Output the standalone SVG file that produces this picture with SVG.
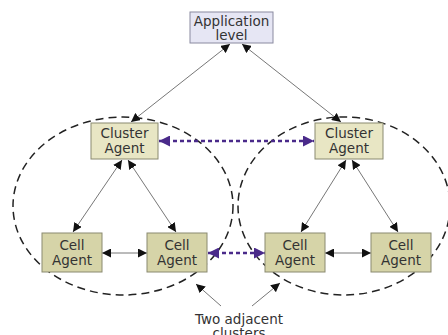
<svg xmlns="http://www.w3.org/2000/svg" width="448" height="335" viewBox="0 0 448 335">
<defs>
<marker id="ah" viewBox="0 0 10 10" refX="10" refY="5" markerWidth="9" markerHeight="9" markerUnits="userSpaceOnUse" orient="auto-start-reverse"><path d="M0,0 L10,5 L0,10 z" fill="#111"/></marker>
<marker id="ap" viewBox="0 0 10 10" refX="10" refY="5" markerWidth="11" markerHeight="11" markerUnits="userSpaceOnUse" orient="auto-start-reverse"><path d="M0,0 L10,5 L0,10 z" fill="#4a2a8a"/></marker>
<style>
text{font-family:"DejaVu Sans",Verdana,sans-serif;font-size:13.5px;fill:#333;text-anchor:middle}
.ell{fill:none;stroke:#222;stroke-width:1.5;stroke-dasharray:8 5}
.app{fill:#e6e6f4;stroke:#8a8aa0;stroke-width:1}
.clu{fill:#e8e6c4;stroke:#8a8a70;stroke-width:1}
.cel{fill:#d6d4a8;stroke:#8a8a70;stroke-width:1}
.ln{stroke:#777;stroke-width:1;fill:none;marker-start:url(#ah);marker-end:url(#ah)}
.one{stroke:#777;stroke-width:1;fill:none;marker-end:url(#ah)}
.pl{stroke:#4a2a8a;stroke-width:2.5;stroke-dasharray:4 3;fill:none;marker-start:url(#ap);marker-end:url(#ap)}
</style>
</defs>
<g id="clusters">
<ellipse class="ell" cx="123" cy="206" rx="110" ry="89"/>
<ellipse class="ell" cx="344" cy="206" rx="106" ry="89"/>
</g>
<g id="connectors">
<line class="ln" x1="230" y1="44" x2="131" y2="122"/>
<line class="ln" x1="242" y1="44" x2="341" y2="122"/>
<line class="ln" x1="122" y1="160" x2="73" y2="232"/>
<line class="ln" x1="128" y1="160" x2="176" y2="232"/>
<line class="ln" x1="346" y1="160" x2="301" y2="232"/>
<line class="ln" x1="352" y1="160" x2="398" y2="232"/>
<line class="ln" x1="102" y1="253" x2="147" y2="253"/>
<line class="ln" x1="325" y1="253" x2="371" y2="253"/>
<line class="pl" x1="159" y1="141" x2="314" y2="141"/>
<line class="pl" x1="208" y1="253" x2="265" y2="253"/>
<line class="one" x1="221" y1="306" x2="196" y2="284"/>
<line class="one" x1="252" y1="306" x2="280" y2="283"/>
</g>
<g id="app"><rect class="app" x="190" y="12" width="83" height="31"/><text x="231.5" y="26">Application</text><text x="231.5" y="40">level</text></g>
<g id="clusterL"><rect class="clu" x="91" y="123" width="67" height="36"/><text x="124.5" y="138">Cluster</text><text x="124.5" y="153">Agent</text></g>
<g id="clusterR"><rect class="clu" x="315" y="123" width="68" height="36"/><text x="349" y="138">Cluster</text><text x="349" y="153">Agent</text></g>
<g id="cell1"><rect class="cel" x="42" y="233" width="60" height="39"/><text x="72" y="250">Cell</text><text x="72" y="265">Agent</text></g>
<g id="cell2"><rect class="cel" x="147" y="233" width="60" height="39"/><text x="177" y="250">Cell</text><text x="177" y="265">Agent</text></g>
<g id="cell3"><rect class="cel" x="265" y="233" width="60" height="39"/><text x="295" y="250">Cell</text><text x="295" y="265">Agent</text></g>
<g id="cell4"><rect class="cel" x="371" y="233" width="60" height="39"/><text x="401" y="250">Cell</text><text x="401" y="265">Agent</text></g>
<g id="label"><text x="239" y="324">Two adjacent</text><text x="239" y="338">clusters</text></g>
</svg>
